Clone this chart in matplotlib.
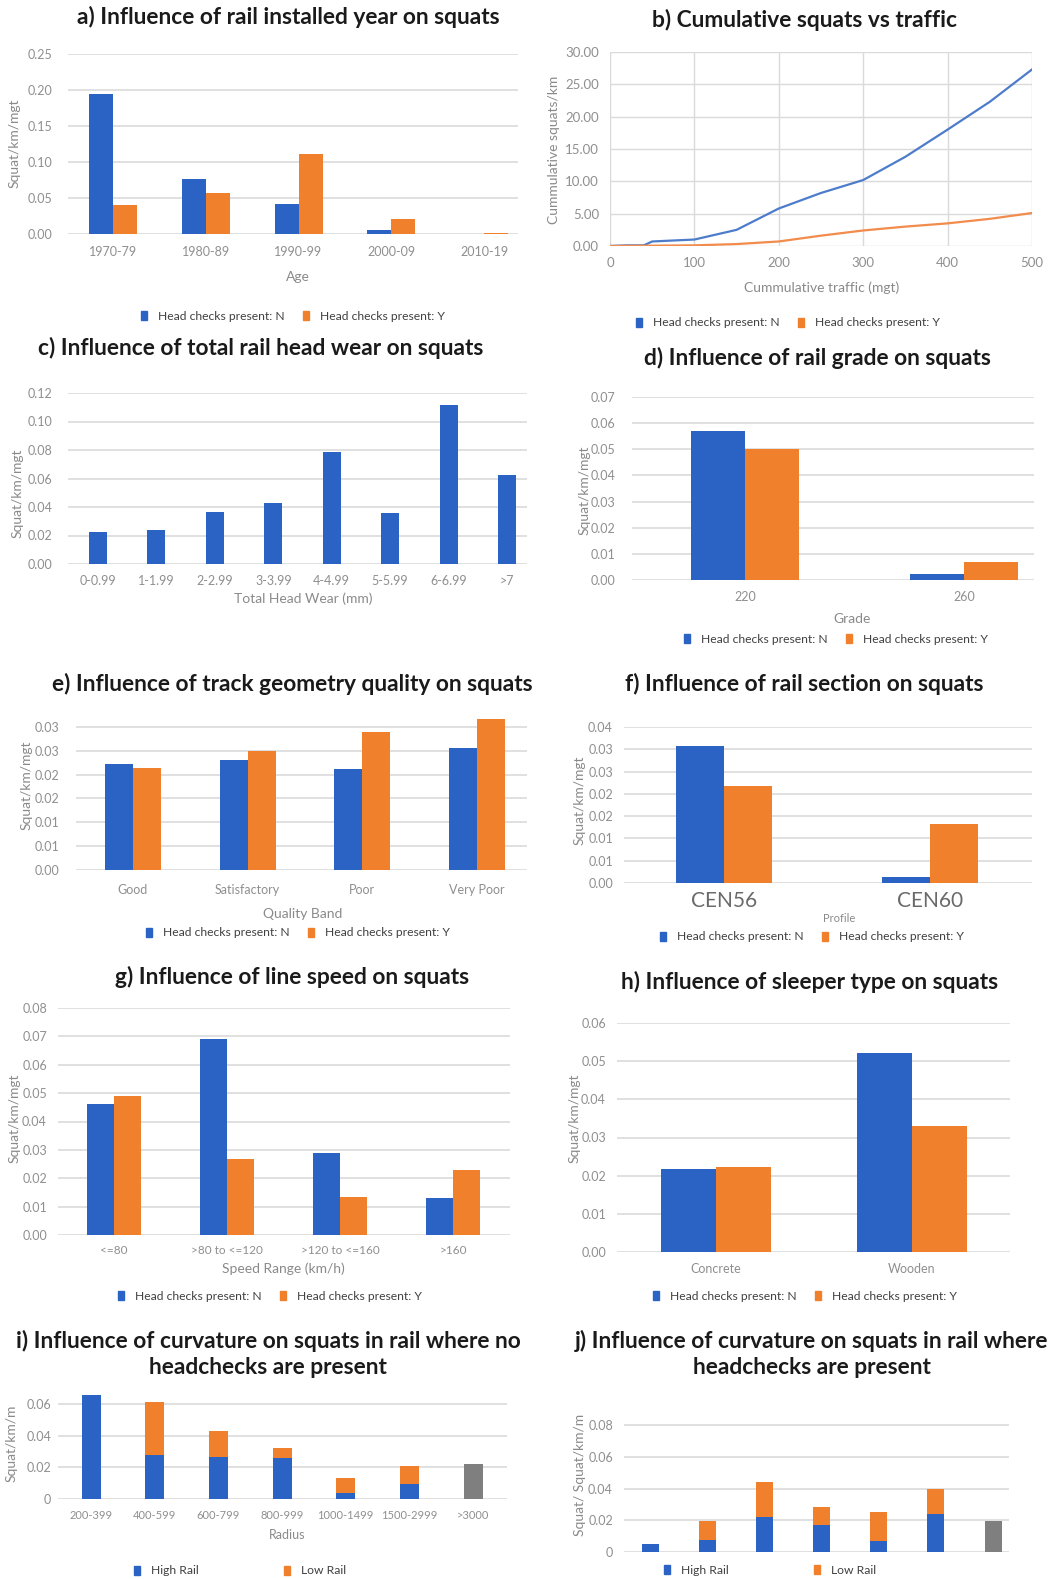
import matplotlib
matplotlib.use('Agg')
import matplotlib.pyplot as plt
from matplotlib.patches import Patch
import numpy as np

plt.rcParams['font.family'] = ['Lato', 'DejaVu Sans']

# a) rail installed year
age_labels = ['1970-79', '1980-89', '1990-99', '2000-09', '2010-19']
age_n = [0.195, 0.076, 0.041, 0.006, 0.0]
age_y = [0.040, 0.057, 0.111, 0.021, 0.002]

# b) cumulative squats vs traffic
traffic_n = [0, 20, 40, 50, 100, 150, 200, 250, 300, 350, 400, 450, 500]
squats_n = [0, 0.1, 0.1, 0.7, 1.0, 2.5, 5.8, 8.2, 10.2, 13.8, 18.0, 22.3, 27.3]
traffic_y = [0, 50, 100, 150, 200, 250, 300, 350, 400, 450, 500]
squats_y = [0, 0.05, 0.1, 0.3, 0.7, 1.6, 2.4, 3.0, 3.5, 4.2, 5.1]

# c) total rail head wear
wear_labels = ['0-0.99', '1-1.99', '2-2.99', '3-3.99', '4-4.99', '5-5.99', '6-6.99', '>7']
wear_n = [0.0225, 0.024, 0.0365, 0.043, 0.0786, 0.0358, 0.1116, 0.0625]

# d) rail grade
grade_labels = ['220', '260']
grade_n = [0.057, 0.0023]
grade_y = [0.050, 0.0069]

# e) track geometry quality
quality_labels = ['Good', 'Satisfactory', 'Poor', 'Very Poor']
quality_n = [0.0222, 0.0231, 0.0212, 0.0256]
quality_y = [0.0214, 0.0249, 0.0289, 0.0317]
quality_ticks = [0, 0.005, 0.010, 0.015, 0.020, 0.025, 0.030]
quality_ticklabels = ['0.00', '0.01', '0.01', '0.02', '0.02', '0.03', '0.03']

# f) rail section
section_labels = ['CEN56', 'CEN60']
section_n = [0.0307, 0.0013]
section_y = [0.0218, 0.0132]
section_ticks = [0, 0.005, 0.010, 0.015, 0.020, 0.025, 0.030, 0.035]
section_ticklabels = ['0.00', '0.01', '0.01', '0.02', '0.02', '0.03', '0.03', '0.04']

# g) line speed
speed_labels = ['<=80', '>80 to <=120', '>120 to <=160', '>160']
speed_n = [0.0462, 0.069, 0.029, 0.013]
speed_y = [0.049, 0.0268, 0.0134, 0.023]

# h) sleeper type
sleeper_labels = ['Concrete', 'Wooden']
sleeper_n = [0.0217, 0.0521]
sleeper_y = [0.0223, 0.033]

# i) / j) curvature
radius_labels = ['200-399', '400-599', '600-799', '800-999', '1000-1499', '1500-2999', '>3000']
no_hc_high = [0.066, 0.028, 0.0265, 0.026, 0.004, 0.0095, 0]
no_hc_low = [0, 0.0335, 0.0165, 0.006, 0.009, 0.0115, 0]
no_hc_tangent = [0, 0, 0, 0, 0, 0, 0.022]
hc_high = [0.005, 0.0076, 0.022, 0.017, 0.0069, 0.0239, 0]
hc_low = [0, 0.0119, 0.022, 0.0114, 0.0183, 0.0161, 0]
hc_tangent = [0, 0, 0, 0, 0, 0, 0.0195]

BLUE = '#2a63c4'
ORANGE = '#f0802c'
GRAY = '#7f7f7f'
GRID = '#dadada'
TICK = '#8f8f8f'
LINE_BLUE = '#4d7ccb'
LINE_ORANGE = '#f28b4c'

TICK_SIZE = 9
LEGEND_SIZE = 8.7
LABEL_SIZE = 10
TITLE_SIZE = 16.4

W, H = 1054, 1579
fig = plt.figure(figsize=(W / 100, H / 100), dpi=100)
fig.patch.set_facecolor('white')


def box(l, t, r, b):
    return fig.add_axes([l / W, 1 - b / H, (r - l) / W, (b - t) / H])


def text(x, y, s, **kw):
    fig.text(x / W, 1 - y / H, s, **kw)


def title(x, y, s):
    text(x, y, s, ha='center', va='center', fontsize=TITLE_SIZE, fontweight='bold',
         color='#1a1a1a', linespacing=1.3)


def axis_label(x, y, s, rot=0, size=LABEL_SIZE):
    text(x, y, s, ha='center', va='center', rotation=rot, fontsize=size, color='#8a8a8a')


def style(ax, ticks, labels, ypad, xpad):
    for s in ax.spines.values():
        s.set_visible(False)
    ax.set_yticks(ticks)
    ax.set_yticklabels(labels)
    ax.yaxis.grid(True, color=GRID, lw=1.2)
    ax.set_axisbelow(True)
    ax.tick_params(length=0, colors=TICK, labelsize=TICK_SIZE)
    ax.tick_params(axis='y', pad=ypad)
    ax.tick_params(axis='x', pad=xpad)


def cat_axis(ax, l, r, c0, c1, labels):
    step = (c1 - c0) / (len(labels) - 1)
    ax.set_xlim((l - c0) / step, (r - c0) / step)
    ax.set_xticks(np.arange(len(labels)))
    ax.set_xticklabels(labels)
    return step


def paired(ax, n_vals, y_vals, w):
    x = np.arange(len(n_vals))
    ax.bar(x - w / 2, n_vals, w, color=BLUE)
    ax.bar(x + w / 2, y_vals, w, color=ORANGE)


def stacked(ax, high, low, tangent, w):
    x = np.arange(len(high))
    ax.bar(x, high, w, color=BLUE)
    ax.bar(x, low, w, bottom=high, color=ORANGE)
    ax.bar(x, tangent, w, color=GRAY)


def legend(x, y, labels, colors, spacing=1.5):
    handles = [Patch(color=c, label=s) for c, s in zip(colors, labels)]
    fig.legend(handles=handles, loc='center', bbox_to_anchor=(x / W, 1 - y / H),
               ncol=len(handles), frameon=False, fontsize=LEGEND_SIZE, handlelength=0.5,
               handleheight=0.8, handletextpad=0.9, columnspacing=spacing,
               labelcolor='#404040', borderpad=0)


hc_labels = ['Head checks present: N', 'Head checks present: Y']
rail_labels = ['High Rail', 'Low Rail']

# a
ax = box(68, 54, 518, 234)
step = cat_axis(ax, 68, 518, 113, 484, age_labels)
paired(ax, age_n, age_y, 24 / step)
ax.set_ylim(0, 0.25)
style(ax, np.arange(0, 0.26, 0.05), ['%.2f' % v for v in np.arange(0, 0.26, 0.05)], 11, 9)
title(288, 17, 'a) Influence of rail installed year on squats')
axis_label(15, 143, 'Squat/km/mgt', rot=90)
axis_label(298, 277, 'Age')
legend(293, 316, hc_labels, [BLUE, ORANGE])

# b
ax = box(610, 52, 1032, 246)
ax.plot(traffic_n, squats_n, color=LINE_BLUE, lw=1.6)
ax.plot(traffic_y, squats_y, color=LINE_ORANGE, lw=1.6)
ax.set_xlim(0, 500)
ax.set_ylim(0, 30)
style(ax, np.arange(0, 31, 5), ['%.2f' % v for v in np.arange(0, 31, 5)], 8, 8)
ax.set_xticks(np.arange(0, 501, 100))
ax.xaxis.grid(True, color=GRID, lw=1.0)
ax.yaxis.grid(True, color=GRID, lw=1.0)
ax.tick_params(labelsize=9.5)
title(805, 20, 'b) Cumulative squats vs traffic')
axis_label(554, 150, 'Cummulative squats/km', rot=90)
axis_label(822, 288, 'Cummulative traffic (mgt)')
legend(788, 323, hc_labels, [BLUE, ORANGE])

# c
ax = box(68, 393, 527, 564)
step = cat_axis(ax, 68, 527, 98, 507, wear_labels)
ax.bar(np.arange(len(wear_n)), wear_n, 18 / step, color=BLUE)
ax.set_ylim(0, 0.12)
style(ax, np.arange(0, 0.121, 0.02), ['%.2f' % v for v in np.arange(0, 0.121, 0.02)], 11, 8)
title(261, 348, 'c) Influence of total rail head wear on squats')
axis_label(18, 493, 'Squat/km/mgt', rot=90)
axis_label(303, 599, 'Total Head Wear (mm)')

# d
ax = box(632, 397, 1034, 580)
step = cat_axis(ax, 632, 1034, 745, 964, grade_labels)
paired(ax, grade_n, grade_y, 54 / step)
ax.set_ylim(0, 0.07)
style(ax, np.arange(0, 0.071, 0.01), ['%.2f' % v for v in np.arange(0, 0.071, 0.01)], 12, 8)
title(817, 358, 'd) Influence of rail grade on squats')
axis_label(585, 490, 'Squat/km/mgt', rot=90)
axis_label(852, 619, 'Grade')
legend(836, 639, hc_labels, [BLUE, ORANGE])

# e
ax = box(76, 715, 527, 870)
step = cat_axis(ax, 76, 527, 133, 477, quality_labels)
paired(ax, quality_n, quality_y, 28 / step)
ax.set_ylim(0, 0.0325)
style(ax, quality_ticks, quality_ticklabels, 12, 10)
title(292, 684, 'e) Influence of track geometry quality on squats')
axis_label(27, 785, 'Squat/km/mgt', rot=90)
axis_label(303, 914, 'Quality Band')
legend(298, 933, hc_labels, [BLUE, ORANGE])

# f
ax = box(624, 727, 1032, 883)
step = cat_axis(ax, 624, 1032, 724, 930, section_labels)
paired(ax, section_n, section_y, 48 / step)
ax.set_ylim(0, 0.035)
style(ax, section_ticks, section_ticklabels, 8, 6)
ax.tick_params(axis='x', labelsize=15, colors='#6a6a6a')
title(804, 684, 'f) Influence of rail section on squats')
axis_label(580, 800, 'Squat/km/mgt', rot=90)
axis_label(839, 919, 'Profile', size=8)
legend(812, 937, hc_labels, [BLUE, ORANGE])

# g
ax = box(58, 1008, 510, 1235)
step = cat_axis(ax, 58, 510, 114, 453, speed_labels)
paired(ax, speed_n, speed_y, 27 / step)
ax.set_ylim(0, 0.08)
style(ax, np.arange(0, 0.081, 0.01), ['%.2f' % v for v in np.arange(0, 0.081, 0.01)], 8, 7)
ax.tick_params(axis='x', labelsize=8.5)
title(292, 977, 'g) Influence of line speed on squats')
axis_label(15, 1118, 'Squat/km/mgt', rot=90)
axis_label(283, 1269, 'Speed Range (km/h)')
legend(270, 1296, hc_labels, [BLUE, ORANGE])

# h
ax = box(617, 1023, 1010, 1252)
step = cat_axis(ax, 617, 1010, 716, 912, sleeper_labels)
paired(ax, sleeper_n, sleeper_y, 55 / step)
ax.set_ylim(0, 0.06)
style(ax, np.arange(0, 0.061, 0.01), ['%.2f' % v for v in np.arange(0, 0.061, 0.01)], 8, 8)
title(810, 982, 'h) Influence of sleeper type on squats')
axis_label(575, 1118, 'Squat/km/mgt', rot=90)
legend(805, 1296, hc_labels, [BLUE, ORANGE])

# i
ax = box(58, 1390, 507, 1499)
step = cat_axis(ax, 58, 507, 91, 473, radius_labels)
stacked(ax, no_hc_high, no_hc_low, no_hc_tangent, 19 / step)
ax.set_ylim(0, 0.0689)
style(ax, [0, 0.02, 0.04, 0.06], ['0', '0.02', '0.04', '0.06'], 5, 8)
ax.tick_params(axis='x', labelsize=8)
title(268, 1354, 'i) Influence of curvature on squats in rail where no\nheadchecks are present')
axis_label(12, 1443, 'Squat/km/m', rot=90)
axis_label(287, 1535, 'Radius', size=9)
legend(240, 1571, rail_labels, [BLUE, ORANGE], spacing=7)

# j
ax = box(624, 1415, 1009, 1552)
step = cat_axis(ax, 624, 1009, 650, 993, radius_labels)
stacked(ax, hc_high, hc_low, hc_tangent, 17 / step)
ax.set_ylim(0, 0.0863)
style(ax, [0, 0.02, 0.04, 0.06, 0.08], ['0', '0.02', '0.04', '0.06', '0.08'], 8, 8)
ax.set_xticklabels([])
title(812, 1354, 'j) Influence of curvature on squats in rail where\nheadchecks are present')
axis_label(580, 1475, 'Squat/ Squat/km/m', rot=90)
legend(770, 1570, rail_labels, [BLUE, ORANGE], spacing=7)

fig.savefig('out.png', dpi=100, facecolor='white')
